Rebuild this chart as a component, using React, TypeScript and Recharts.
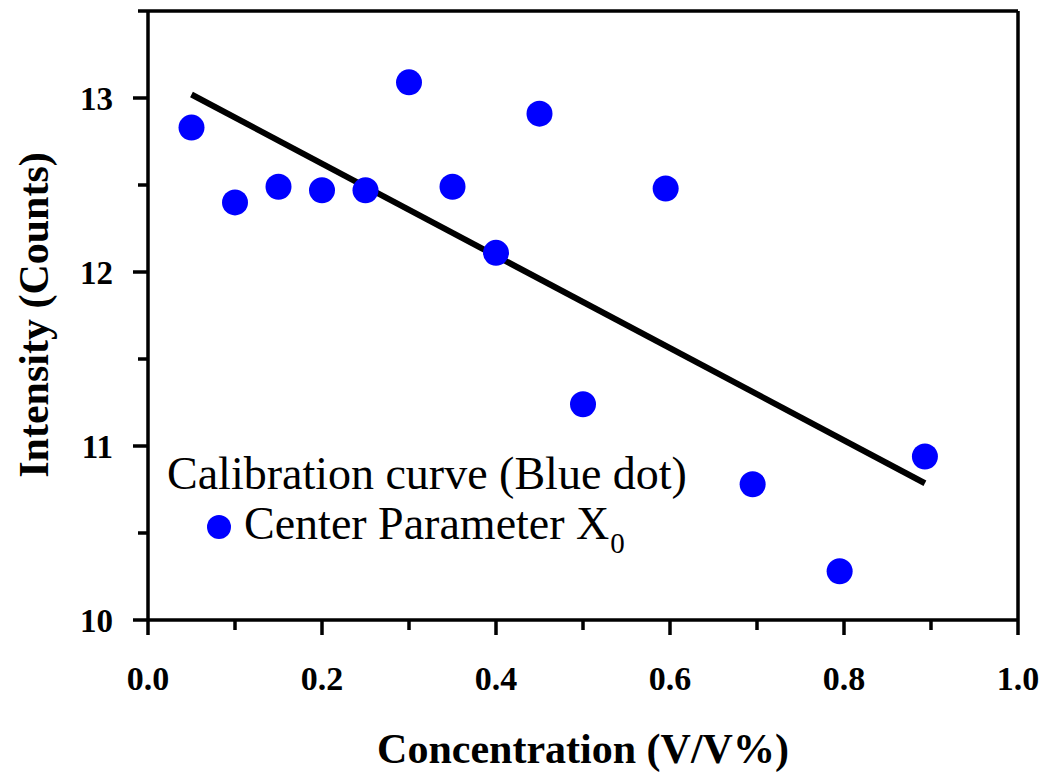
import React from 'react';
import {
  ScatterChart,
  Scatter,
  XAxis,
  YAxis,
  ReferenceLine,
  Label,
} from 'recharts';

// measured points (concentration V/V%, intensity counts)
const conc = [0.05, 0.1, 0.15, 0.2, 0.25, 0.3, 0.35, 0.4, 0.45, 0.5, 0.595, 0.695, 0.795, 0.893];
const intensity = [12.83, 12.4, 12.49, 12.47, 12.47, 13.09, 12.49, 12.11, 12.91, 11.24, 12.48, 10.78, 10.28, 10.94];

// calibration line end points
const fitX = [0.05, 0.893];
const fitY = [13.02, 10.786];

const xTicks = [0, 0.1, 0.2, 0.3, 0.4, 0.5, 0.6, 0.7, 0.8, 0.9, 1.0];
const yTicks = [10, 10.5, 11, 11.5, 12, 12.5, 13, 13.5];

const points = conc.map((x, i) => ({ x, y: intensity[i] }));
const fit = fitX.map((x, i) => ({ x, y: fitY[i] }));

const FONT = '"Liberation Serif", "Times New Roman", serif';
const AXIS_W = 3.5;

function XTick(props: any) {
  const { x, y, payload } = props;
  const major = Math.round(payload.value * 10) % 2 === 0;
  return (
    <g>
      <line x1={x} x2={x} y1={y} y2={y + (major ? 15 : 10)} stroke="#000" strokeWidth={AXIS_W} />
      {major && (
        <text x={x} y={y + 70} textAnchor="middle" fontFamily={FONT} fontWeight="bold" fontSize={34} fill="#000">
          {payload.value.toFixed(1)}
        </text>
      )}
    </g>
  );
}

function YTick(props: any) {
  const { x, y, payload } = props;
  const major = Number.isInteger(payload.value);
  return (
    <g>
      <line x1={x} x2={x - (major ? 15 : 10)} y1={y} y2={y} stroke="#000" strokeWidth={AXIS_W} />
      {major && (
        <text x={x - 35} y={y + 12} textAnchor="end" fontFamily={FONT} fontWeight="bold" fontSize={33} fill="#000">
          {payload.value}
        </text>
      )}
    </g>
  );
}

const Dot = (props: any) => <circle cx={props.cx} cy={props.cy} r={13} fill="#0000ff" />;
const NoShape = () => <g />;

export default function App() {
  return (
    <div style={{ position: 'absolute', left: 0, top: 0, width: 1049, height: 775, background: '#fff' }}>
      <ScatterChart width={1049} height={775} margin={{ top: 11, right: 31, bottom: 0, left: 0 }}>
        <XAxis
          type="number"
          dataKey="x"
          domain={[0, 1]}
          ticks={xTicks}
          interval={0}
          height={155}
          tickSize={0}
          tickMargin={0}
          tickLine={false}
          tick={<XTick />}
          axisLine={{ stroke: '#000', strokeWidth: AXIS_W }}
        >
          <Label
            content={() => (
              <text x={583} y={763} textAnchor="middle" fontFamily={FONT} fontWeight="bold" fontSize={42} fill="#000">
                Concentration (V/V%)
              </text>
            )}
          />
        </XAxis>
        <YAxis
          type="number"
          dataKey="y"
          domain={[10, 13.5]}
          ticks={yTicks}
          interval={0}
          width={148}
          tickSize={0}
          tickMargin={0}
          tickLine={false}
          tick={<YTick />}
          axisLine={{ stroke: '#000', strokeWidth: AXIS_W }}
        >
          <Label
            content={() => (
              <text
                x={48}
                y={315}
                transform="rotate(-90, 48, 315)"
                textAnchor="middle"
                fontFamily={FONT}
                fontWeight="bold"
                fontSize={42}
                fill="#000"
              >
                Intensity (Counts)
              </text>
            )}
          />
        </YAxis>
        <ReferenceLine y={13.5} stroke="#000" strokeWidth={AXIS_W} />
        <ReferenceLine x={1} stroke="#000" strokeWidth={AXIS_W} />
        <Scatter
          data={fit}
          shape={NoShape}
          line={{ stroke: '#000', strokeWidth: 6 }}
          isAnimationActive={false}
        />
        <Scatter data={points} shape={Dot} fill="#0000ff" isAnimationActive={false} />
      </ScatterChart>
      <div
        style={{
          position: 'absolute',
          left: 167,
          top: 449,
          fontFamily: FONT,
          fontSize: 46,
          lineHeight: '50px',
          color: '#000',
          whiteSpace: 'nowrap',
        }}
      >
        <div>Calibration curve (Blue dot)</div>
        <div style={{ display: 'flex', alignItems: 'center' }}>
          <span
            style={{
              display: 'inline-block',
              width: 24,
              height: 24,
              borderRadius: 12,
              background: '#0000ff',
              marginLeft: 40,
              marginRight: 13,
            }}
          />
          <span>
            Center Parameter X
            <span style={{ fontSize: 29, position: 'relative', top: 14, marginLeft: 1 }}>0</span>
          </span>
        </div>
      </div>
    </div>
  );
}
